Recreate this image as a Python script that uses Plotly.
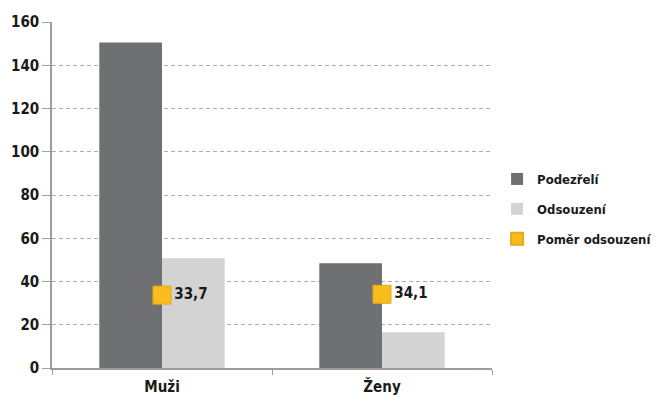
import plotly.graph_objects as go

categories = ["Muži", "Ženy"]
podezreli = [150.5, 48.4]
odsouzeni = [50.7, 16.5]
pomer = [33.7, 34.1]
pomer_labels = ["33,7", "34,1"]
y_ticks = [0, 20, 40, 60, 80, 100, 120, 140, 160]

FONT = "DejaVu Sans Condensed"
TXT = "#1a1a1a"
AXIS_COL = "#a39a9a"

fig = go.Figure()
fig.add_trace(go.Bar(x=categories, y=podezreli, name="Podezřelí", legendgroup="a",
                     marker=dict(color="#6e7071", line=dict(width=0))))
fig.add_trace(go.Bar(x=categories, y=odsouzeni, name="Odsouzení", legendgroup="b",
                     marker=dict(color="#d3d3d3", line=dict(width=0))))
fig.add_trace(go.Scatter(x=categories, y=pomer, name="Poměr odsouzení", legendgroup="c",
                         mode="markers+text", text=pomer_labels,
                         textposition="middle right",
                         textfont=dict(family=FONT, size=15, color=TXT, weight="bold"),
                         marker=dict(symbol="square", size=18, color="#f7bd1c",
                                     line=dict(color="#e9a818", width=1))))

fig.update_layout(
    width=661, height=400,
    margin=dict(l=52, r=169, t=22, b=32, autoexpand=False),
    paper_bgcolor="white", plot_bgcolor="white",
    barmode="group", bargap=0.43, bargroupgap=0,
    font=dict(family=FONT, size=15, color=TXT, weight="bold"),
    legend=dict(xref="container", x=0.752, xanchor="left", yref="container",
                y=0.4775, yanchor="middle",
                font=dict(family=FONT, size=13, color=TXT, weight="bold"),
                itemsizing="constant", tracegroupgap=10, itemwidth=30),
    showlegend=True,
)
fig.update_xaxes(showline=True, linecolor=AXIS_COL, linewidth=1.5,
                 ticks="outside", tickson="boundaries", ticklen=5, tickcolor=AXIS_COL,
                 ticklabelstandoff=4, showgrid=False,
                 tickfont=dict(family=FONT, size=15, color=TXT, weight="bold"))
fig.update_yaxes(range=[0, 160], tickvals=y_ticks, showline=True, linecolor=AXIS_COL,
                 linewidth=1.5, ticks="outside", ticklen=8, tickcolor=AXIS_COL,
                 showgrid=True, gridcolor="#b5aaaa", griddash="4px,3px", gridwidth=1,
                 zeroline=False, tickfont=dict(family=FONT, size=15, color=TXT, weight="bold"))

fig.write_html("out.html")
